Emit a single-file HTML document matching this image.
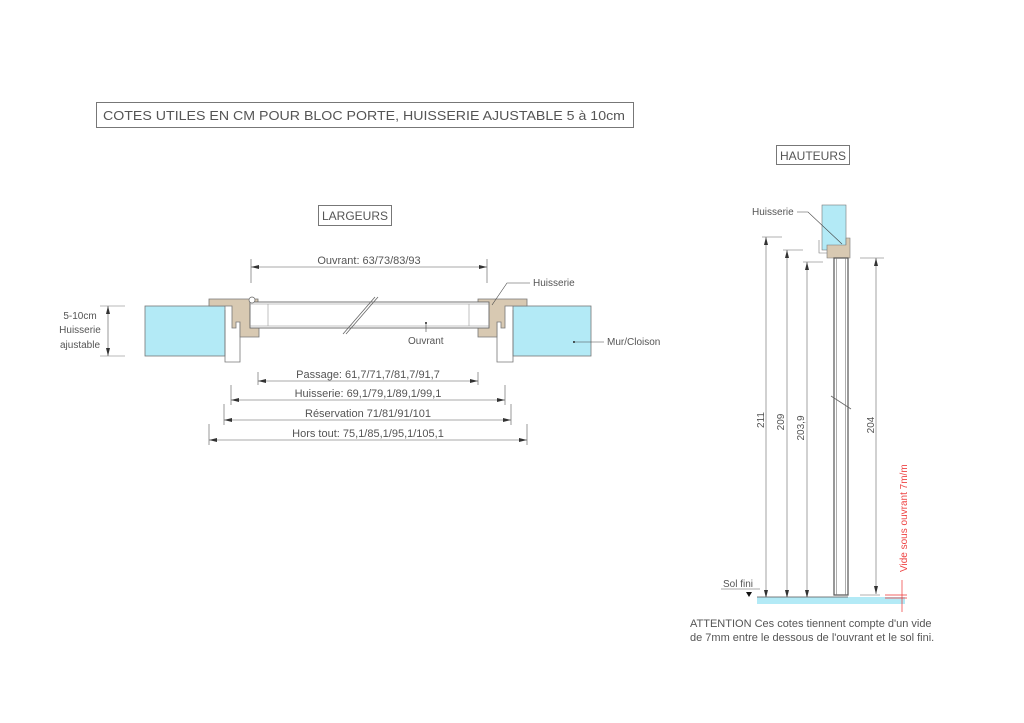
<!DOCTYPE html>
<html><head><meta charset="utf-8"><style>
html,body{margin:0;padding:0;background:#fff;}
svg{display:block;font-family:"Liberation Sans",sans-serif;}
text{fill:#555;}
</style></head><body>
<svg width="1024" height="723" viewBox="0 0 1024 723" xmlns="http://www.w3.org/2000/svg">
<defs>
<marker id="a" viewBox="0 0 10 6" refX="10" refY="3" markerWidth="8" markerHeight="5" orient="auto-start-reverse" markerUnits="userSpaceOnUse"><path d="M0,0.5 L10,3 L0,5.5z" fill="#333"/></marker>
</defs>
<rect x="96.5" y="102.5" width="537" height="25" fill="none" stroke="#777"/>
<text x="103" y="120" font-size="13" textLength="522" lengthAdjust="spacingAndGlyphs">COTES UTILES EN CM POUR BLOC PORTE, HUISSERIE AJUSTABLE  5 à 10cm</text>
<rect x="776.5" y="145.5" width="73" height="19" fill="none" stroke="#777"/>
<text x="780" y="160" font-size="12" textLength="66" lengthAdjust="spacingAndGlyphs">HAUTEURS</text>
<rect x="318.5" y="205.5" width="73" height="20" fill="none" stroke="#777"/>
<text x="322" y="220" font-size="12" textLength="66" lengthAdjust="spacingAndGlyphs">LARGEURS</text>

<rect x="145" y="306" width="80" height="50" fill="#b3eaf6" stroke="#777" stroke-width="0.8"/>
<rect x="513" y="306" width="78" height="50" fill="#b3eaf6" stroke="#777" stroke-width="0.8"/>
<path d="M225,310 V362 H240 V320" fill="none" stroke="#777" stroke-width="0.8"/>
<path d="M513,310 V362 H497 V320" fill="none" stroke="#777" stroke-width="0.8"/>
<path d="M209,299 H258 V308 H250 V325 H259 V337 H240 V322 H236 V328 H232 V306 H209 Z" fill="#d8c9b2" stroke="#777" stroke-width="0.8"/>
<path d="M527,299 H478 V308 H487 V325 H478 V337 H497 V322 H501 V328 H505 V306 H527 Z" fill="#d8c9b2" stroke="#777" stroke-width="0.8"/>
<rect x="250" y="302" width="239" height="26" fill="#fff" stroke="#666" stroke-width="0.9"/>
<line x1="250" y1="304" x2="489" y2="304" stroke="#888" stroke-width="0.6"/>
<line x1="250" y1="326" x2="489" y2="326" stroke="#888" stroke-width="0.6"/>
<line x1="268" y1="304" x2="268" y2="326" stroke="#999" stroke-width="0.6"/>
<line x1="469" y1="304" x2="469" y2="326" stroke="#999" stroke-width="0.6"/>
<line x1="343" y1="334" x2="375" y2="297" stroke="#666" stroke-width="0.8"/>
<line x1="346" y1="334" x2="378" y2="297" stroke="#666" stroke-width="0.8"/>
<circle cx="252" cy="300" r="3" fill="#fff" stroke="#666" stroke-width="0.7"/>
<circle cx="426" cy="323" r="1" fill="#222"/>
<line x1="426" y1="323" x2="426" y2="332" stroke="#444" stroke-width="0.6"/>
<text x="408" y="344" font-size="10">Ouvrant</text>
<path d="M492,305 L507,283 H530" fill="none" stroke="#444" stroke-width="0.6"/>
<text x="533" y="286" font-size="10">Huisserie</text>
<circle cx="574" cy="342" r="1" fill="#222"/>
<line x1="574" y1="342" x2="604" y2="342" stroke="#444" stroke-width="0.6"/>
<text x="607" y="345" font-size="10">Mur/Cloison</text>
<text x="80" y="319" font-size="10" text-anchor="middle">5-10cm</text>
<text x="80" y="333" font-size="10" text-anchor="middle">Huisserie</text>
<text x="80" y="348" font-size="10" text-anchor="middle">ajustable</text>
<line x1="100" y1="306" x2="125" y2="306" stroke="#777" stroke-width="0.6"/>
<line x1="100" y1="356" x2="125" y2="356" stroke="#777" stroke-width="0.6"/>
<line x1="108" y1="306" x2="108" y2="356" stroke="#555" stroke-width="0.6" marker-start="url(#a)" marker-end="url(#a)"/>
<g stroke="#555" stroke-width="0.6">
<line x1="251" y1="259" x2="251" y2="283"/><line x1="487" y1="259" x2="487" y2="283"/>
<line x1="251" y1="267" x2="487" y2="267" marker-start="url(#a)" marker-end="url(#a)"/>
<line x1="258" y1="372" x2="258" y2="385"/><line x1="478" y1="372" x2="478" y2="385"/>
<line x1="258" y1="381" x2="478" y2="381" marker-start="url(#a)" marker-end="url(#a)"/>
<line x1="231" y1="385" x2="231" y2="405"/><line x1="505" y1="385" x2="505" y2="405"/>
<line x1="231" y1="400" x2="505" y2="400" marker-start="url(#a)" marker-end="url(#a)"/>
<line x1="224" y1="404" x2="224" y2="425"/><line x1="511" y1="404" x2="511" y2="425"/>
<line x1="224" y1="420" x2="511" y2="420" marker-start="url(#a)" marker-end="url(#a)"/>
<line x1="209" y1="424" x2="209" y2="445"/><line x1="527" y1="424" x2="527" y2="445"/>
<line x1="209" y1="440" x2="527" y2="440" marker-start="url(#a)" marker-end="url(#a)"/>
</g>
<g font-size="11" text-anchor="middle">
<text x="369" y="264">Ouvrant: 63/73/83/93</text>
<text x="368" y="378">Passage: 61,7/71,7/81,7/91,7</text>
<text x="368" y="397">Huisserie: 69,1/79,1/89,1/99,1</text>
<text x="368" y="417">Réservation 71/81/91/101</text>
<text x="368" y="437">Hors tout: 75,1/85,1/95,1/105,1</text>
</g>

<rect x="822" y="205" width="24" height="45" fill="#b3eaf6" stroke="#777" stroke-width="0.6"/>
<path d="M819,240 V253 H830" fill="none" stroke="#777" stroke-width="0.6"/>
<path d="M827,245 H846 V238 H850 V258 H827 Z" fill="#d8c9b2" stroke="#777" stroke-width="0.6"/>
<rect x="834" y="258" width="14" height="337" fill="#fff" stroke="#555" stroke-width="1.2"/>
<line x1="836.5" y1="258" x2="836.5" y2="595" stroke="#777" stroke-width="0.6"/>
<line x1="845.5" y1="258" x2="845.5" y2="595" stroke="#777" stroke-width="0.6"/>
<line x1="831" y1="396" x2="851" y2="409" stroke="#666" stroke-width="0.8"/>
<path d="M797,212 H808 L842,244" fill="none" stroke="#444" stroke-width="0.6"/>
<text x="752" y="215" font-size="10">Huisserie</text>
<g stroke="#666" stroke-width="0.6">
<line x1="762" y1="237" x2="782" y2="237"/><line x1="783" y1="250" x2="803" y2="250"/>
<line x1="803" y1="262" x2="823" y2="262"/><line x1="860" y1="258" x2="884" y2="258"/>
<line x1="766" y1="237" x2="766" y2="598" marker-start="url(#a)" marker-end="url(#a)"/>
<line x1="787" y1="250" x2="787" y2="598" marker-start="url(#a)" marker-end="url(#a)"/>
<line x1="807" y1="262" x2="807" y2="598" marker-start="url(#a)" marker-end="url(#a)"/>
<line x1="876" y1="258" x2="876" y2="594" marker-start="url(#a)" marker-end="url(#a)"/>
<line x1="860" y1="595" x2="880" y2="595"/>
</g>
<g font-size="10" text-anchor="middle">
<text transform="translate(764,420) rotate(-90)">211</text>
<text transform="translate(784,422) rotate(-90)">209</text>
<text transform="translate(804,428) rotate(-90)">203,9</text>
<text transform="translate(874,425) rotate(-90)">204</text>
</g>
<rect x="757" y="597" width="148" height="7" fill="#b3eaf6"/>
<line x1="757" y1="597" x2="848" y2="597" stroke="#555" stroke-width="0.8"/>
<line x1="721" y1="589" x2="760" y2="589" stroke="#555" stroke-width="0.6"/>
<text x="723" y="587" font-size="10">Sol fini</text>
<path d="M746,592 L752,592 L749,597z" fill="#111"/>
<g stroke="#e33" stroke-width="0.7">
<line x1="885" y1="595" x2="907" y2="595"/><line x1="885" y1="598" x2="907" y2="598"/>
<line x1="902" y1="580" x2="902" y2="612"/>
</g>
<text transform="translate(907,572) rotate(-90)" font-size="10" style="fill:#e44">Vide sous ouvrant 7m/m</text>
<text x="690" y="627" font-size="11">ATTENTION Ces cotes tiennent compte d'un vide</text>
<text x="690" y="641" font-size="11">de 7mm entre le dessous de l'ouvrant et le sol fini.</text>
</svg>
</body></html>
